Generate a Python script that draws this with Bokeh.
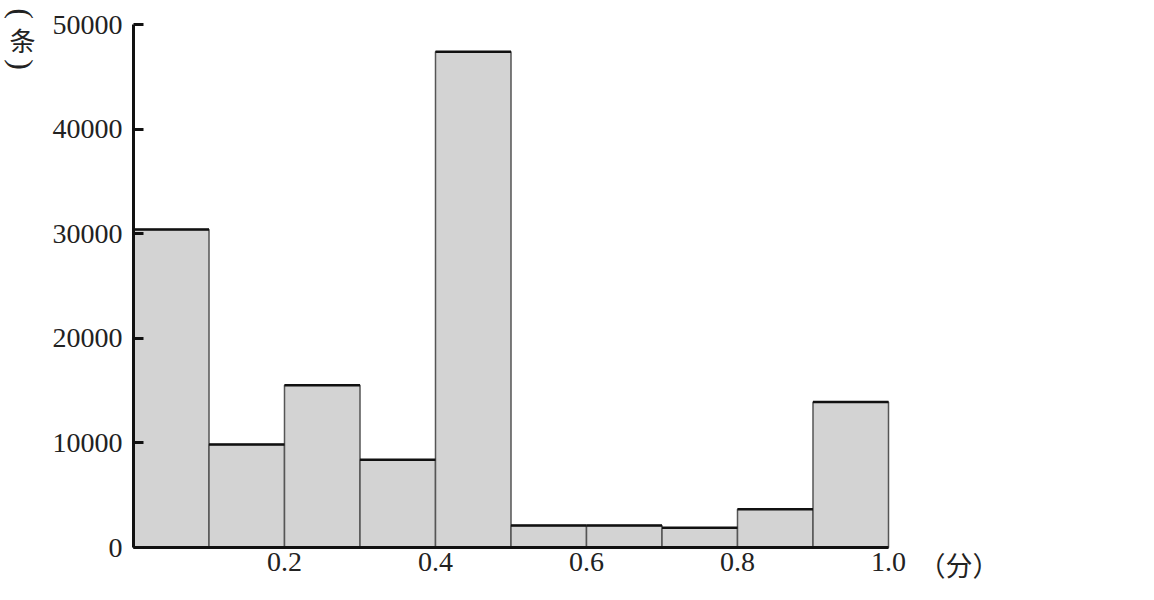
import math
from bokeh.plotting import figure
from bokeh.models import Range1d, FixedTicker, LinearAxis
from bokeh.core.properties import value
from bokeh.embed import file_html
from bokeh.resources import INLINE

# ---- data ----
bin_left = [0.0, 0.1, 0.2, 0.3, 0.4, 0.5, 0.6, 0.7, 0.8, 0.9]
bin_right = [0.1, 0.2, 0.3, 0.4, 0.5, 0.6, 0.7, 0.8, 0.9, 1.0]
counts = [30400, 9850, 15500, 8400, 47400, 2100, 2100, 1900, 3650, 13900]
x_ticks = [0.2, 0.4, 0.6, 0.8, 1.0]
x_tick_labels = ["0.2", "0.4", "0.6", "0.8", "1.0"]
y_ticks = [0, 10000, 20000, 30000, 40000, 50000]
y_tick_labels = ["0", "10000", "20000", "30000", "40000", "50000"]
x_unit = "（分）"
y_unit_char = "条"
y_unit_parens = ["(", ")"]

NUM_FONT = "Liberation Serif"
CJK_FONT = "Noto Sans CJK SC"

W, H = 1138, 584
# pixel layout of the plotting area inside the canvas
X0_PX, X_PER_UNIT = 133, 755.0      # x=0 position and pixels per 1.0
Y0_PX, Y_TOP_PX = 547, 24           # y=0 and y=50000 positions
y_per_px = 50000 / (Y0_PX - Y_TOP_PX)

x_start = -X0_PX / X_PER_UNIT
x_end = (W - X0_PX) / X_PER_UNIT
y_start = -(H - Y0_PX) * y_per_px
y_end = Y0_PX * y_per_px

def px_to_x(px):
    return (px - X0_PX) / X_PER_UNIT

def px_to_y(py):
    return (Y0_PX - py) * y_per_px

p = figure(width=W, height=H, output_backend="svg", toolbar_location=None,
           x_range=Range1d(x_start, x_end), y_range=Range1d(y_start, y_end),
           x_axis_type=None, y_axis_type=None, min_border=0)
p.outline_line_color = None
p.background_fill_color = "white"
p.border_fill_color = "white"

p.quad(left=bin_left, right=bin_right, top=counts, bottom=0,
       fill_color="#d3d3d3", line_color="#555555", line_width=1.5)
p.segment(x0=bin_left, y0=counts, x1=bin_right, y1=counts,
          line_color="#111111", line_width=2.5)

yaxis = LinearAxis(ticker=FixedTicker(ticks=y_ticks), bounds=(0, 50000), fixed_location=0)
yaxis.major_label_overrides = {t: l for t, l in zip(y_ticks, y_tick_labels)}
yaxis.axis_line_width = 3
yaxis.axis_line_color = "#111111"
yaxis.major_tick_in = 10
yaxis.major_tick_out = 0
yaxis.major_tick_line_width = 3
yaxis.major_tick_line_color = "#111111"
yaxis.minor_tick_line_color = None
yaxis.major_label_standoff = 11
yaxis.major_label_text_font = NUM_FONT
yaxis.major_label_text_font_size = "28px"
yaxis.major_label_text_color = "#222222"
p.add_layout(yaxis, "left")

xaxis = LinearAxis(ticker=FixedTicker(ticks=x_ticks), bounds=(0, 1.0), fixed_location=0)
xaxis.major_label_overrides = {t: l for t, l in zip(x_ticks, x_tick_labels)}
xaxis.axis_line_width = 3
xaxis.axis_line_color = "#111111"
xaxis.major_tick_in = 0
xaxis.major_tick_out = 0
xaxis.major_tick_line_color = None
xaxis.minor_tick_line_color = None
xaxis.major_label_standoff = 5
xaxis.major_label_text_font = NUM_FONT
xaxis.major_label_text_font_size = "28px"
xaxis.major_label_text_color = "#222222"
p.add_layout(xaxis, "below")

# x unit label
p.text(x=[px_to_x(918)], y=[px_to_y(564)], text=[x_unit],
       text_font=value(CJK_FONT), text_font_size="27px", text_color="#222222",
       text_align="left", text_baseline="middle")

# vertical y unit label: rotated parentheses around an upright character
p.text(x=[px_to_x(21)] * 2, y=[px_to_y(13), px_to_y(64)], text=y_unit_parens,
       angle=-math.pi / 2,
       text_font=value(NUM_FONT), text_font_size="32px", text_color="#222222",
       text_align="center", text_baseline="middle")
p.text(x=[px_to_x(22)], y=[px_to_y(39)], text=[y_unit_char],
       text_font=value(CJK_FONT), text_font_size="26px", text_color="#222222",
       text_align="center", text_baseline="middle")

open("out.html", "w").write(file_html(p, INLINE))
